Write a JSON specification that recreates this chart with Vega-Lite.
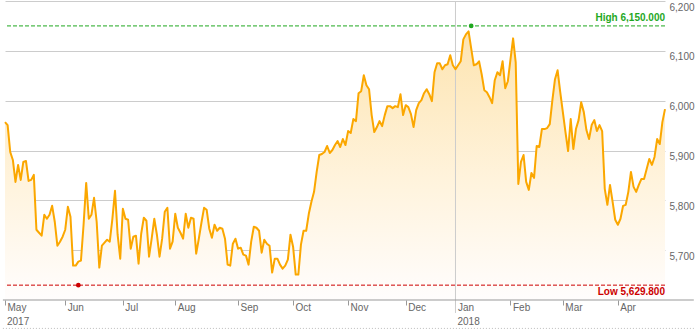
{
  "$schema": "https://vega.github.io/schema/vega-lite/v6.json",
  "width": 660,
  "height": 299,
  "padding": {"left": 2, "top": 0, "right": 0, "bottom": 0},
  "autosize": {"type": "pad"},
  "background": "white",
  "config": {"view": {"stroke": null}, "font": "Liberation Sans", "axisX": {"grid": false}, "axisY": {"grid": true}},
  "datasets": {
    "price": [
      {"day":0,"v":5957},{"day":1,"v":5951},{"day":2,"v":5897},{"day":3,"v":5881},{"day":4,"v":5837},{"day":5,"v":5871},{"day":6,"v":5841},{"day":7,"v":5877},{"day":8,"v":5879},{"day":9,"v":5839},{"day":10,"v":5841},{"day":11,"v":5851},{"day":12,"v":5741},{"day":13,"v":5735},{"day":14,"v":5729},{"day":15,"v":5771},{"day":16,"v":5763},{"day":17,"v":5771},{"day":18,"v":5789},{"day":19,"v":5757},{"day":20,"v":5709},{"day":21,"v":5717},{"day":22,"v":5727},{"day":23,"v":5741},{"day":24,"v":5787},{"day":25,"v":5767},{"day":26,"v":5669},{"day":27,"v":5669},{"day":28,"v":5677},{"day":29,"v":5679},{"day":30,"v":5751},{"day":31,"v":5835},{"day":32,"v":5763},{"day":33,"v":5771},{"day":34,"v":5805},{"day":35,"v":5757},{"day":36,"v":5665},{"day":37,"v":5709},{"day":38,"v":5715},{"day":39,"v":5721},{"day":40,"v":5717},{"day":41,"v":5763},{"day":42,"v":5819},{"day":43,"v":5731},
      {"day":44,"v":5683},{"day":45,"v":5783},{"day":46,"v":5763},{"day":47,"v":5761},{"day":48,"v":5703},{"day":49,"v":5727},{"day":50,"v":5729},{"day":51,"v":5673},{"day":52,"v":5733},{"day":53,"v":5765},{"day":54,"v":5759},{"day":55,"v":5687},{"day":56,"v":5723},{"day":57,"v":5763},{"day":58,"v":5731},{"day":59,"v":5687},{"day":60,"v":5723},{"day":61,"v":5777},{"day":62,"v":5785},{"day":63,"v":5703},{"day":64,"v":5717},{"day":65,"v":5773},{"day":66,"v":5745},{"day":67,"v":5735},{"day":68,"v":5723},{"day":69,"v":5773},{"day":70,"v":5745},{"day":71,"v":5765},{"day":72,"v":5763},{"day":73,"v":5693},{"day":74,"v":5723},{"day":75,"v":5755},{"day":76,"v":5785},{"day":77,"v":5781},{"day":78,"v":5743},{"day":79,"v":5725},{"day":80,"v":5751},{"day":81,"v":5739},{"day":82,"v":5745},{"day":83,"v":5743},{"day":84,"v":5723},{"day":85,"v":5671},
      {"day":86,"v":5669},{"day":87,"v":5713},{"day":88,"v":5723},{"day":89,"v":5703},{"day":90,"v":5705},{"day":91,"v":5691},{"day":92,"v":5689},{"day":93,"v":5671},{"day":94,"v":5717},{"day":95,"v":5747},{"day":96,"v":5745},{"day":97,"v":5739},{"day":98,"v":5695},{"day":99,"v":5721},{"day":100,"v":5713},{"day":101,"v":5709},{"day":102,"v":5655},{"day":103,"v":5683},{"day":104,"v":5683},{"day":105,"v":5671},{"day":106,"v":5663},{"day":107,"v":5669},{"day":108,"v":5681},{"day":109,"v":5731},{"day":110,"v":5707},{"day":111,"v":5651},{"day":112,"v":5651},{"day":113,"v":5711},{"day":114,"v":5739},{"day":115,"v":5739},{"day":116,"v":5773},{"day":117,"v":5797},{"day":118,"v":5817},{"day":119,"v":5857},{"day":120,"v":5891},{"day":121,"v":5893},{"day":122,"v":5897},{"day":123,"v":5909},{"day":124,"v":5895},{"day":125,"v":5901},{"day":126,"v":5911},
      {"day":127,"v":5919},{"day":128,"v":5907},{"day":129,"v":5923},{"day":130,"v":5911},{"day":131,"v":5939},{"day":132,"v":5935},{"day":133,"v":5963},{"day":134,"v":5959},{"day":135,"v":6015},{"day":136,"v":6019},{"day":137,"v":6051},{"day":138,"v":6031},{"day":139,"v":6023},{"day":140,"v":5971},{"day":141,"v":5937},{"day":142,"v":5947},{"day":143,"v":5959},{"day":144,"v":5949},{"day":145,"v":5971},{"day":146,"v":5989},{"day":147,"v":5989},{"day":148,"v":5985},{"day":149,"v":5989},{"day":150,"v":5987},{"day":151,"v":6013},{"day":152,"v":5971},{"day":153,"v":5991},{"day":154,"v":5987},{"day":155,"v":5973},{"day":156,"v":5947},{"day":157,"v":5981},{"day":158,"v":5995},{"day":159,"v":6001},{"day":160,"v":6015},{"day":161,"v":6023},{"day":162,"v":6013},{"day":163,"v":5999},{"day":164,"v":6057},{"day":165,"v":6075},{"day":166,"v":6075},{"day":167,"v":6063},{"day":168,"v":6071},{"day":169,"v":6073},
      {"day":170,"v":6091},{"day":171,"v":6071},{"day":172,"v":6063},{"day":173,"v":6071},{"day":174,"v":6079},{"day":175,"v":6123},{"day":176,"v":6133},{"day":177,"v":6139},{"day":178,"v":6105},{"day":179,"v":6071},{"day":180,"v":6073},{"day":181,"v":6079},{"day":182,"v":6053},{"day":183,"v":6021},{"day":184,"v":6017},{"day":185,"v":6007},{"day":186,"v":5995},{"day":187,"v":6041},{"day":188,"v":6057},{"day":189,"v":6051},{"day":190,"v":6079},{"day":191,"v":6025},{"day":192,"v":6039},{"day":193,"v":6083},{"day":194,"v":6125},{"day":195,"v":6077},{"day":196,"v":5833},{"day":197,"v":5877},{"day":198,"v":5891},{"day":199,"v":5837},{"day":200,"v":5821},{"day":201,"v":5855},{"day":202,"v":5845},{"day":203,"v":5909},{"day":204,"v":5907},{"day":205,"v":5943},{"day":206,"v":5943},{"day":207,"v":5945},{"day":208,"v":5953},{"day":209,"v":6001},{"day":210,"v":6043},{"day":211,"v":6061},
      {"day":212,"v":6017},{"day":213,"v":5977},{"day":214,"v":5937},{"day":215,"v":5899},{"day":216,"v":5963},{"day":217,"v":5903},{"day":218,"v":5943},{"day":219,"v":5961},{"day":220,"v":5997},{"day":221,"v":5977},{"day":222,"v":5941},{"day":223,"v":5923},{"day":224,"v":5951},{"day":225,"v":5961},{"day":226,"v":5939},{"day":227,"v":5951},{"day":228,"v":5939},{"day":229,"v":5823},{"day":230,"v":5791},{"day":231,"v":5831},{"day":232,"v":5797},{"day":233,"v":5761},{"day":234,"v":5751},{"day":235,"v":5763},{"day":236,"v":5789},{"day":237,"v":5791},{"day":238,"v":5817},{"day":239,"v":5857},{"day":240,"v":5827},{"day":241,"v":5817},{"day":242,"v":5831},{"day":243,"v":5843},{"day":244,"v":5843},{"day":245,"v":5863},{"day":246,"v":5883},{"day":247,"v":5871},{"day":248,"v":5887},{"day":249,"v":5923},{"day":250,"v":5913},{"day":251,"v":5957},{"day":252,"v":5983}
    ],
    "extremes": [
      {"day": 178, "v": 6150, "kind": "High", "label": "High 6,150.000"},
      {"day": 28, "v": 5629.8, "kind": "Low", "label": "Low 5,629.800"}
    ],
    "years": [
      {"day": 0, "year": "2017"},
      {"day": 172, "year": "2018"}
    ]
  },
  "layer": [
    {
      "data": {"name": "price"},
      "mark": {
        "type": "area",
        "color": {
          "gradient": "linear",
          "x1": 1, "y1": 1, "x2": 1, "y2": 0,
          "stops": [
            {"offset": 0, "color": "#fffdfd"},
            {"offset": 0.45, "color": "#fff3dc"},
            {"offset": 1, "color": "#fde4b0"}
          ]
        }
      },
      "encoding": {
        "x": {
          "field": "day", "type": "quantitative",
          "scale": {"domain": [0, 252], "nice": false, "zero": false},
          "axis": {
            "values": [0, 23, 45, 65, 89, 110, 131, 153, 172, 193, 213, 234],
            "labelExpr": "datum.value == 0 ? 'May' : datum.value == 23 ? 'Jun' : datum.value == 45 ? 'Jul' : datum.value == 65 ? 'Aug' : datum.value == 89 ? 'Sep' : datum.value == 110 ? 'Oct' : datum.value == 131 ? 'Nov' : datum.value == 153 ? 'Dec' : datum.value == 172 ? 'Jan' : datum.value == 193 ? 'Feb' : datum.value == 213 ? 'Mar' : 'Apr'",
            "grid": false,
            "domain": false,
            "ticks": true,
            "tickSize": 5,
            "tickColor": "#999999",
            "labelAlign": "left",
            "labelBaseline": "top",
            "labelPadding": -3,
            "labelOffset": 2,
            "labelFlush": false,
            "labelOverlap": false,
            "labelFontSize": 10,
            "labelColor": "#666666",
            "title": null
          }
        },
        "y": {
          "field": "v", "type": "quantitative",
          "scale": {"domain": [5600, 6200], "nice": false, "zero": false},
          "axis": {
            "orient": "right",
            "values": [5700, 5800, 5900, 6000, 6100, 6200],
            "format": ",d",
            "grid": true,
            "gridColor": "#cccccc",
            "domain": false,
            "ticks": false,
            "labelPadding": 4,
            "labelBaseline": "top",
            "labelOffset": 1,
            "labelFontSize": 10,
            "labelColor": "#666666",
            "title": null
          }
        },
        "y2": {"datum": 5600}
      }
    },
    {
      "data": {"values": [{"day": 172, "top": 6200, "bottom": 5574}]},
      "mark": {"type": "rule", "color": "#cccccc", "strokeWidth": 1},
      "encoding": {
        "x": {"field": "day", "type": "quantitative"},
        "y": {"field": "top", "type": "quantitative"},
        "y2": {"field": "bottom"}
      }
    },
    {
      "data": {"values": [{"x0": -0.8, "x1": 263, "y0": 5600}]},
      "mark": {"type": "rule", "color": "#999999", "strokeWidth": 1},
      "encoding": {
        "x": {"field": "x0", "type": "quantitative"},
        "x2": {"field": "x1"},
        "y": {"field": "y0", "type": "quantitative"}
      }
    },
    {
      "data": {"values": [{"x0": -0.8, "x1": 263, "y0": 5543}]},
      "mark": {"type": "rule", "color": "#bbbbbb", "strokeWidth": 1, "strokeDash": [1, 2]},
      "encoding": {
        "x": {"field": "x0", "type": "quantitative"},
        "x2": {"field": "x1"},
        "y": {"field": "y0", "type": "quantitative"}
      }
    },
    {
      "data": {"name": "years"},
      "mark": {"type": "text", "align": "left", "baseline": "middle", "dx": 2, "fontSize": 10, "color": "#666666"},
      "encoding": {
        "x": {"field": "day", "type": "quantitative"},
        "y": {"datum": 5555, "type": "quantitative"},
        "text": {"field": "year"}
      }
    },
    {
      "data": {"name": "price"},
      "mark": {"type": "line", "color": "#fba700", "strokeWidth": 2, "strokeJoin": "round"},
      "encoding": {
        "x": {"field": "day", "type": "quantitative"},
        "y": {"field": "v", "type": "quantitative"}
      }
    },
    {
      "data": {"name": "extremes"},
      "mark": {"type": "rule", "strokeDash": [4, 2], "strokeWidth": 1},
      "encoding": {
        "y": {"field": "v", "type": "quantitative"},
        "color": {"field": "kind", "type": "nominal", "scale": {"domain": ["High", "Low"], "range": ["#1fa81f", "#cc0000"]}, "legend": null}
      }
    },
    {
      "data": {"name": "extremes"},
      "mark": {"type": "point", "filled": true, "opacity": 1, "size": 22},
      "encoding": {
        "x": {"field": "day", "type": "quantitative"},
        "y": {"field": "v", "type": "quantitative"},
        "color": {"field": "kind", "type": "nominal", "legend": null}
      }
    },
    {
      "data": {"name": "extremes"},
      "transform": [{"filter": "datum.kind == 'High'"}],
      "mark": {"type": "text", "align": "right", "baseline": "bottom", "dy": -3, "fontSize": 10, "fontWeight": "bold"},
      "encoding": {
        "x": {"datum": 252, "type": "quantitative"},
        "y": {"field": "v", "type": "quantitative"},
        "text": {"field": "label"},
        "color": {"field": "kind", "type": "nominal", "legend": null}
      }
    },
    {
      "data": {"name": "extremes"},
      "transform": [{"filter": "datum.kind == 'Low'"}],
      "mark": {"type": "text", "align": "right", "baseline": "top", "dy": 2, "fontSize": 10, "fontWeight": "bold"},
      "encoding": {
        "x": {"datum": 252, "type": "quantitative"},
        "y": {"field": "v", "type": "quantitative"},
        "text": {"field": "label"},
        "color": {"field": "kind", "type": "nominal", "legend": null}
      }
    }
  ]
}
